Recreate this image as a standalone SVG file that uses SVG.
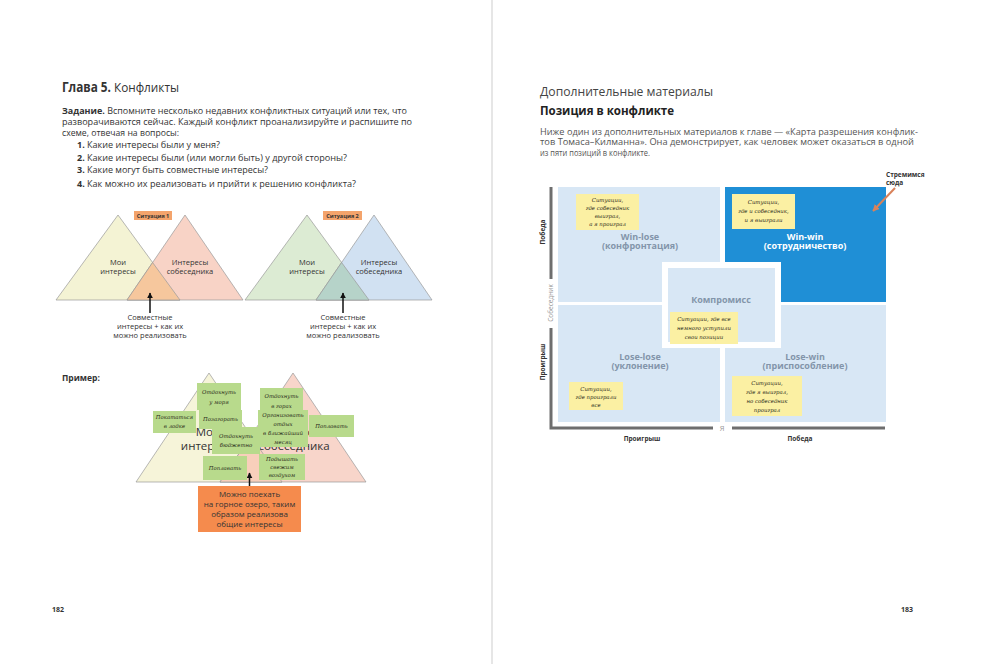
<svg xmlns="http://www.w3.org/2000/svg" width="988" height="664" viewBox="0 0 988 664">
<defs>
<style>
.t{font-family:"Open Sans","Liberation Sans",sans-serif;fill:#333}
.b{font-weight:700}
.tri{stroke:#9a9a9a;stroke-width:0.7}
.sg{fill:#b8da8c}
.hw{font-family:"DejaVu Serif","Liberation Serif",serif;font-style:italic;font-size:5.4px;fill:#2a2a1a;text-anchor:middle}
.yn{fill:#fbf0a3}
.q{fill:#d8e7f5}
.ql{font-family:"Open Sans","Liberation Sans",sans-serif;font-weight:700;font-size:9px;fill:#8395aa;text-anchor:middle}
.qw{fill:#fff}
.ax{stroke:#6e6e6e;stroke-width:3;fill:none}
.axl{font-family:"Open Sans","Liberation Sans",sans-serif;font-weight:700;font-size:6.5px;fill:#333;text-anchor:middle}
.axg{font-weight:400;fill:#9a9a9a}
.c{text-anchor:middle}
</style>
<marker id="ah" viewBox="0 0 10 10" refX="9" refY="5" markerWidth="4" markerHeight="4" orient="auto"><path d="M0,0L10,5L0,10z" fill="#111"/></marker>
<marker id="aho" viewBox="0 0 10 10" refX="9" refY="5" markerWidth="3.5" markerHeight="3.5" orient="auto"><path d="M0,0L10,5L0,10z" fill="#d9825a"/></marker>
</defs>
<rect width="988" height="664" fill="#fff"/>
<line x1="492" y1="0" x2="492" y2="664" stroke="#d6d6d6" stroke-width="1.2"/>

<!-- LEFT PAGE -->
<g id="left-heading">
<text class="t" x="62" y="92" font-size="13.5" textLength="117" lengthAdjust="spacingAndGlyphs"><tspan class="b">Глава 5.</tspan> Конфликты</text>
</g>
<g id="left-task" font-size="9">
<text class="t" x="62" y="114" textLength="345" lengthAdjust="spacingAndGlyphs"><tspan class="b">Задание.</tspan> Вспомните несколько недавних конфликтных ситуаций или тех, что</text>
<text class="t" x="62" y="125" textLength="350" lengthAdjust="spacingAndGlyphs">разворачиваются сейчас. Каждый конфликт проанализируйте и распишите по</text>
<text class="t" x="62" y="136" textLength="117" lengthAdjust="spacingAndGlyphs">схеме, отвечая на вопросы:</text>
<text class="t" x="77" y="148"><tspan class="b">1.</tspan></text><text class="t" x="87" y="148" textLength="133" lengthAdjust="spacingAndGlyphs">Какие интересы были у меня?</text>
<text class="t" x="77" y="161"><tspan class="b">2.</tspan></text><text class="t" x="87" y="161" textLength="260" lengthAdjust="spacingAndGlyphs">Какие интересы были (или могли быть) у другой стороны?</text>
<text class="t" x="77" y="173"><tspan class="b">3.</tspan></text><text class="t" x="87" y="173" textLength="181" lengthAdjust="spacingAndGlyphs">Какие могут быть совместные интересы?</text>
<text class="t" x="77" y="187"><tspan class="b">4.</tspan></text><text class="t" x="87" y="187" textLength="269" lengthAdjust="spacingAndGlyphs">Как можно их реализовать и прийти к решению конфликта?</text>
</g>

<g id="situation1">
<polygon class="tri" points="118,215 56,300 180,300" fill="#f4f3d4"/>
<polygon class="tri" points="185,215 127,300 243,300" fill="#f8d3c6"/>
<polygon class="tri" points="152.6,262.5 127,300 180,300" fill="#f6c79d"/>
<rect x="134" y="211" width="38" height="9" fill="#f4a46c"/>
<text class="t c b" x="153" y="218" font-size="5.5">Ситуация 1</text>
<text class="t c" x="118" y="265" font-size="7.5">Мои</text>
<text class="t c" x="118" y="274" font-size="7.5">интересы</text>
<text class="t c" x="190" y="265" font-size="7.5">Интересы</text>
<text class="t c" x="190" y="274" font-size="7.5">собеседника</text>
<text class="t c" x="150" y="320" font-size="7.5">Совместные</text>
<text class="t c" x="150" y="329" font-size="7.5">интересы + как их</text>
<text class="t c" x="150" y="338" font-size="7.5">можно реализовать</text>
</g>
<g id="situation2">
<polygon class="tri" points="307,215 245,300 369,300" fill="#dcebd3"/>
<polygon class="tri" points="374,215 316,300 432,300" fill="#d1e1f2"/>
<polygon class="tri" points="341.6,262.5 316,300 369,300" fill="#b6d3c9"/>
<rect x="323" y="211" width="39" height="9" fill="#f4a46c"/>
<text class="t c b" x="342.5" y="218" font-size="5.5">Ситуация 2</text>
<text class="t c" x="307" y="265" font-size="7.5">Мои</text>
<text class="t c" x="307" y="274" font-size="7.5">интересы</text>
<text class="t c" x="379" y="265" font-size="7.5">Интересы</text>
<text class="t c" x="379" y="274" font-size="7.5">собеседника</text>
<text class="t c" x="343" y="320" font-size="7.5">Совместные</text>
<text class="t c" x="343" y="329" font-size="7.5">интересы + как их</text>
<text class="t c" x="343" y="338" font-size="7.5">можно реализовать</text>
</g>

<g id="example">
<text class="t b" x="62" y="381" font-size="8.5">Пример:</text>
<polygon class="tri" points="209,373 136,482 282,482" fill="#f6f4d9"/>
<polygon class="tri" points="293,373 220,482 366,482" fill="#f8d5ca"/>
<polygon class="tri" points="251,435.7 220,482 282,482" fill="#f8cfbb"/>
<text class="t c" x="208" y="436" font-size="11.5">Мои</text>
<text class="t c" x="208" y="450" font-size="11.5">интересы</text>
<text class="t c" x="294" y="436" font-size="11.5">Интересы</text>
<text class="t c" x="294" y="450" font-size="11.5">собеседника</text>
</g>
<g id="stickies">
<g id="s1"><rect class="sg" x="197" y="383" width="44" height="27"/><text class="hw" x="219" y="394">Отдохнуть</text><text class="hw" x="219" y="404">у моря</text></g>
<g id="s2"><rect class="sg" x="260" y="388" width="43" height="25"/><text class="hw" x="281.5" y="398">Отдохнуть</text><text class="hw" x="281.5" y="408">в горах</text></g>
<g id="s3"><rect class="sg" x="153" y="411" width="43" height="22"/><text class="hw" x="174.5" y="419">Покататься</text><text class="hw" x="174.5" y="428">в лодке</text></g>
<g id="s4"><rect class="sg" x="199" y="410" width="43" height="19"/><text class="hw" x="220.5" y="421">Позагорать</text></g>
<g id="s5"><rect class="sg" x="258" y="410" width="50" height="37"/><text class="hw" x="283" y="417">Организовать</text><text class="hw" x="283" y="426">отдых</text><text class="hw" x="283" y="435">в ближайший</text><text class="hw" x="283" y="444">месяц</text></g>
<g id="s6"><rect class="sg" x="309" y="415" width="45" height="22"/><text class="hw" x="331.5" y="428">Поплавать</text></g>
<g id="s7"><rect class="sg" x="212" y="427" width="48" height="27"/><text class="hw" x="236" y="438">Отдохнуть</text><text class="hw" x="236" y="447">бюджетно</text></g>
<g id="s8"><rect class="sg" x="203" y="456" width="44" height="24"/><text class="hw" x="225" y="470">Поплавать</text></g>
<g id="s9"><rect class="sg" x="259" y="454" width="46" height="26"/><text class="hw" x="282" y="461">Подышать</text><text class="hw" x="282" y="469">свежим</text><text class="hw" x="282" y="477">воздухом</text></g>
</g>
<g id="result">
<rect x="198" y="486" width="103" height="46" fill="#f58b4d"/>
<text class="t c" x="249.5" y="497" font-size="8" fill="#3a2a20">Можно поехать</text>
<text class="t c" x="249.5" y="507" font-size="8" fill="#3a2a20">на горное озеро, таким</text>
<text class="t c" x="249.5" y="517" font-size="8" fill="#3a2a20">образом реализова</text>
<text class="t c" x="249.5" y="527" font-size="8" fill="#3a2a20">общие интересы</text>
</g>
<text class="t b" x="52" y="612" font-size="7">182</text>

<!-- RIGHT PAGE -->
<g id="right-heading">
<text class="t" x="540" y="96" font-size="12.5" style="fill:#444" textLength="173" lengthAdjust="spacingAndGlyphs">Дополнительные материалы</text>
<text class="t b" x="540" y="115" font-size="12" style="fill:#222" textLength="134" lengthAdjust="spacingAndGlyphs">Позиция в конфликте</text>
<text class="t" x="540" y="135" font-size="8.5" style="fill:#555" textLength="378" lengthAdjust="spacingAndGlyphs">Ниже один из дополнительных материалов к главе — «Карта разрешения конфлик-</text>
<text class="t" x="540" y="145" font-size="8.5" style="fill:#555" textLength="374" lengthAdjust="spacingAndGlyphs">тов Томаса–Килманна». Она демонстрирует, как человек может оказаться в одной</text>
<text class="t" x="540" y="156" font-size="8.5" style="fill:#555" textLength="110" lengthAdjust="spacingAndGlyphs">из пяти позиций в конфликте.</text>
</g>
<g id="matrix">
<rect class="q" x="558" y="187" width="162" height="115"/>
<rect x="725" y="187" width="161" height="115" fill="#1f8fd6"/>
<rect class="q" x="558" y="305" width="162" height="117"/>
<rect class="q" x="725" y="305" width="161" height="117"/>
<rect x="662" y="262" width="119" height="86" fill="#fff"/>
<rect class="q" x="668" y="268" width="107" height="74"/>
<text class="ql" x="640" y="240">Win-lose</text>
<text class="ql" x="640" y="249">(конфронтация)</text>
<text class="ql qw" x="805" y="240">Win-win</text>
<text class="ql qw" x="805" y="249">(сотрудничество)</text>
<text class="ql" x="721" y="303">Компромисс</text>
<text class="ql" x="640" y="360">Lose-lose</text>
<text class="ql" x="640" y="369">(уклонение)</text>
<text class="ql" x="805" y="360">Lose-win</text>
<text class="ql" x="805" y="369">(приспособление)</text>
</g>
<g id="notes">
<g id="n1"><rect class="yn" x="576" y="194" width="63" height="36"/><text class="hw" x="607.5" y="202">Ситуации,</text><text class="hw" x="607.5" y="210">где собеседник</text><text class="hw" x="607.5" y="218">выиграл,</text><text class="hw" x="607.5" y="226">а я проиграл</text></g>
<g id="n2"><rect class="yn" x="732" y="194" width="63" height="35"/><text class="hw" x="763.5" y="204">Ситуации,</text><text class="hw" x="763.5" y="213">где и собеседник,</text><text class="hw" x="763.5" y="222">и я выиграли</text></g>
<g id="n3"><rect class="yn" x="670" y="312" width="68" height="32"/><text class="hw" x="704" y="321">Ситуации, где все</text><text class="hw" x="704" y="330">немного уступили</text><text class="hw" x="704" y="339">свои позиции</text></g>
<g id="n4"><rect class="yn" x="569" y="382" width="54" height="28"/><text class="hw" x="596" y="391">Ситуации,</text><text class="hw" x="596" y="399">где проиграли</text><text class="hw" x="596" y="407">все</text></g>
<g id="n5"><rect class="yn" x="732" y="376" width="70" height="40"/><text class="hw" x="767" y="385">Ситуации,</text><text class="hw" x="767" y="394">где я выиграл,</text><text class="hw" x="767" y="403">но собеседник</text><text class="hw" x="767" y="412">проиграл</text></g>
</g>
<g id="axes">
<path class="ax" d="M551,187V279"/>
<path class="ax" d="M551,328V428H713"/>
<path class="ax" d="M732,428H885"/>
<text class="axl" transform="translate(545,232) rotate(-90)">Победа</text>
<text class="axl" transform="translate(545,362) rotate(-90)">Проигрыш</text>
<text class="axl" x="642" y="441">Проигрыш</text>
<text class="axl" x="800" y="441">Победа</text>
<text class="axl axg" x="722" y="431" font-size="7.5" style="font-size:7.5px">Я</text>
<text class="axl axg" transform="translate(553,303) rotate(-90)">Собеседник</text>
</g>
<g id="callout">
<text class="axl" x="886" y="177" style="text-anchor:start">Стремимся</text>
<text class="axl" x="886" y="185" style="text-anchor:start">сюда</text>
</g>
<text class="t b" x="901" y="612" font-size="7">183</text>

<g id="connectors" stroke="#111" stroke-width="1.5" fill="none">
<line x1="150" y1="313" x2="150" y2="293" marker-end="url(#ah)"/>
<line x1="343" y1="313" x2="343" y2="293" marker-end="url(#ah)"/>
<line x1="249.5" y1="486" x2="249.5" y2="473" marker-end="url(#ah)"/>
<line x1="895" y1="188" x2="873" y2="211" stroke="#d9825a" stroke-width="2" marker-end="url(#aho)"/>
</g>
</svg>
